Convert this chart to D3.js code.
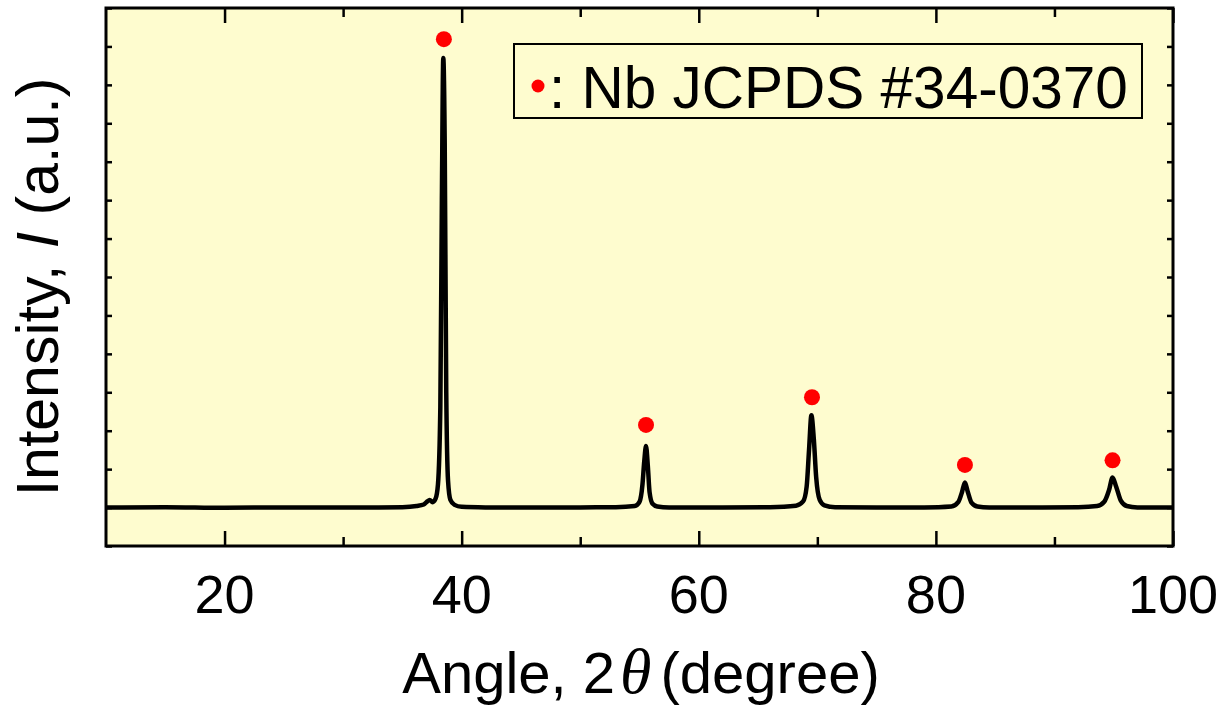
<!DOCTYPE html>
<html>
<head>
<meta charset="utf-8">
<style>
body { margin: 0; background: #fff; }
svg { display: block; font-family: "Liberation Sans", Arial, sans-serif; }
</style>
</head>
<body>
<svg id="thevis" width="1227" height="707"></svg>
<script src="https://cdn.jsdelivr.net/npm/d3@7"></script>
<script>
// XRD pattern (baseline ~1000 counts)
var angle = [10, 15, 20, 25, 30, 33, 35, 36.2, 36.8, 37.1, 37.3, 37.55, 37.8, 38.0, 38.2, 38.33, 38.45, 38.57, 38.7, 38.85, 39.05, 39.4, 40, 42,
  45, 50, 53, 54.6, 55.0, 55.25, 55.4, 55.55, 55.7, 55.85, 56.1, 56.5, 57.5,
  62, 66, 68.2, 68.8, 69.1, 69.3, 69.5, 69.7, 69.9, 70.2, 70.6, 71.5,
  75, 79, 81.3, 81.9, 82.2, 82.45, 82.7, 83.0, 83.5, 84.5,
  88, 92, 93.6, 94.2, 94.6, 94.9, 95.2, 95.6, 96.1, 97, 100];
var intensity = [1000, 1010, 995, 1005, 1000, 1005, 1010, 1040, 1080, 1160, 1200, 1140, 1230, 1600, 3600, 9000, 12700, 10500, 4000, 1700, 1200, 1070, 1020, 1005,
  1000, 1005, 1010, 1040, 1150, 1600, 2200, 2600, 2100, 1400, 1100, 1030, 1005,
  1000, 1010, 1050, 1160, 1550, 2500, 3400, 2800, 1800, 1200, 1060, 1010,
  1000, 1005, 1030, 1150, 1400, 1650, 1400, 1130, 1030, 1005,
  1000, 1010, 1040, 1150, 1450, 1780, 1550, 1180, 1040, 1005, 1000];

// Nb reference markers (JCPDS #34-0370)
var markAngle = [38.5, 55.55, 69.55, 82.45, 94.9];
var markInt = [13190, 3150, 3870, 2110, 2230];

var xTicks = [20, 40, 60, 80, 100];
var xMinor = [30, 50, 70, 90];

var svg = d3.select("svg");
var plot = {left: 106, right: 1173, top: 8, bottom: 546};
var bg = "#FEFCCF";

var x = d3.scaleLinear().domain([10, 100]).range([plot.left, plot.right]);
var y = d3.scaleLinear().domain([0, 14000]).range([plot.bottom, plot.top]);

// plot background
svg.append("rect")
  .attr("x", plot.left).attr("y", plot.top)
  .attr("width", plot.right - plot.left).attr("height", plot.bottom - plot.top)
  .attr("fill", bg);

// pattern
var line = d3.line()
  .x(function(d) { return x(d[0]); })
  .y(function(d) { return y(d[1]); })
  .curve(d3.curveMonotoneX);
svg.append("path")
  .datum(d3.zip(angle, intensity))
  .attr("d", line)
  .attr("fill", "none")
  .attr("stroke", "#000")
  .attr("stroke-width", 4.5)
  .attr("stroke-linejoin", "round");

// peak markers
svg.selectAll("circle.mark")
  .data(d3.zip(markAngle, markInt))
  .enter().append("circle")
    .attr("class", "mark")
    .attr("cx", function(d) { return x(d[0]); })
    .attr("cy", function(d) { return y(d[1]); })
    .attr("r", 8)
    .attr("fill", "#FF0000");

// axes: ticks inside, on all four sides
function tickStyle(g) {
  g.select(".domain").remove();
  g.selectAll("line").attr("stroke", "#000").attr("stroke-width", 2.5);
}
svg.append("g").attr("transform", "translate(0," + plot.bottom + ")")
  .call(d3.axisBottom(x).tickValues(xTicks).tickSize(-15).tickFormat(""))
  .call(tickStyle);
svg.append("g").attr("transform", "translate(0," + plot.bottom + ")")
  .call(d3.axisBottom(x).tickValues(xMinor).tickSize(-9).tickFormat(""))
  .call(tickStyle);
svg.append("g").attr("transform", "translate(0," + plot.top + ")")
  .call(d3.axisTop(x).tickValues(xTicks).tickSize(-15).tickFormat(""))
  .call(tickStyle);
svg.append("g").attr("transform", "translate(0," + plot.top + ")")
  .call(d3.axisTop(x).tickValues(xMinor).tickSize(-9).tickFormat(""))
  .call(tickStyle);
svg.append("g").attr("transform", "translate(" + plot.left + ",0)")
  .call(d3.axisLeft(y).ticks(14).tickSize(-6).tickFormat(""))
  .call(tickStyle);
svg.append("g").attr("transform", "translate(" + plot.right + ",0)")
  .call(d3.axisRight(y).ticks(14).tickSize(-6).tickFormat(""))
  .call(tickStyle);

// x tick labels
svg.append("g").selectAll("text")
  .data(xTicks)
  .enter().append("text")
    .attr("x", function(d) { return x(d); })
    .attr("y", 613)
    .attr("text-anchor", "middle")
    .attr("font-size", 54)
    .text(function(d) { return d; });

// frame
svg.append("rect")
  .attr("x", plot.left).attr("y", plot.top)
  .attr("width", plot.right - plot.left).attr("height", plot.bottom - plot.top)
  .attr("fill", "none").attr("stroke", "#000").attr("stroke-width", 3);

// axis titles
var xt = svg.append("text")
  .attr("x", 641)
  .attr("y", 693)
  .attr("text-anchor", "middle")
  .attr("font-size", 58);
xt.append("tspan").text("Angle, 2");
xt.append("tspan").attr("dx", 5).attr("font-family", "Liberation Serif, serif").attr("font-style", "italic")
  .attr("font-size", 64).text("\u03B8");
xt.append("tspan").attr("dx", 9).text("(degree)");

var yt = svg.append("text")
  .attr("transform", "translate(58," + 287 + ") rotate(-90)")
  .attr("text-anchor", "middle")
  .attr("font-size", 59);
yt.append("tspan").text("Intensity, ");
yt.append("tspan").attr("font-style", "italic").text("I");
yt.append("tspan").text(" (a.u.)");

// legend
var legend = svg.append("g");
legend.append("rect")
  .attr("x", 514).attr("y", 44)
  .attr("width", 628).attr("height", 74)
  .attr("fill", bg).attr("stroke", "#000").attr("stroke-width", 2);
legend.append("circle")
  .attr("cx", 538).attr("cy", 86).attr("r", 6.5).attr("fill", "#FF0000");
legend.append("text")
  .attr("x", 549).attr("y", 108)
  .attr("font-size", 58.5)
  .text(": Nb JCPDS #34-0370");
</script>
</body>
</html>
